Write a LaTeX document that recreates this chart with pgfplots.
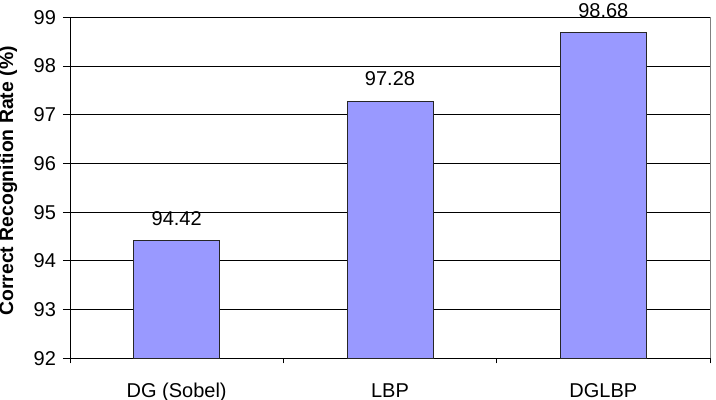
\documentclass[border=0pt]{standalone}
\usepackage{fontspec}
\setmainfont{Liberation Sans}
\usepackage{pgfplots}
\pgfplotsset{compat=1.18}
\definecolor{barblue}{HTML}{9999FF}
\begin{document}
\begin{tikzpicture}
\useasboundingbox (0,0) rectangle (358pt,200pt);
\begin{axis}[
  at={(35pt,20.85pt)}, anchor=south west,
  scale only axis, width=320pt, height=170.5pt,
  xmin=-0.5, xmax=2.5, ymin=92, ymax=99,
  ytick={92,93,...,99},
  xtick={0,1,2},
  xticklabels={DG (Sobel),LBP,DGLBP},
  minor xtick={-0.5,0.5,1.5,2.5},
  major x tick style={draw=none},
  minor x tick style={black, thin},
  y tick style={black, thin},
  tick align=outside,
  major tick length=3.5pt,
  minor tick length=2.5pt,
  axis line style={black, thin},
  axis x line*=bottom,
  axis y line*=left,
  ymajorgrids,
  major grid style={black, thin},
  ybar, bar width=43pt,
  font=\fontsize{10}{12}\selectfont,
  /pgf/number format/assume math mode=true,
  /pgf/number format/.cd, fixed, precision=2, fixed zerofill=false, /pgfplots/.cd,
  yticklabel style={font=\fontsize{10}{12}\selectfont},
  xticklabel style={font=\fontsize{10}{12}\selectfont, yshift=-5.5pt},
  ylabel={\bfseries Correct Recognition Rate (\%)},
  ylabel style={at={(axis description cs:-0.0965,0.52)}, anchor=center, font=\fontsize{9.7}{12}\selectfont},
  nodes near coords,
  every node near coord/.append style={font=\fontsize{10}{12}\selectfont, yshift=4pt, /pgf/number format/fixed, /pgf/number format/precision=2},
  clip=false,
]
\addplot[fill=barblue, draw=black!85, thin] coordinates {(0,94.42) (1,97.28) (2,98.68)};
\draw[gray, thin] (rel axis cs:1,0) -- (rel axis cs:1,1);
\end{axis}
\end{tikzpicture}
\end{document}
